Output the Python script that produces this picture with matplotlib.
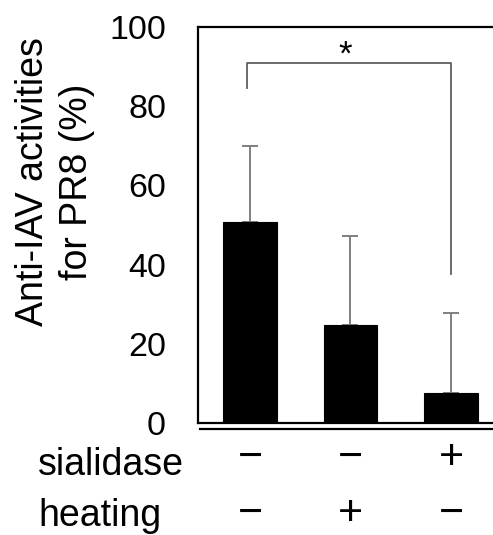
import matplotlib
matplotlib.use("Agg")
import matplotlib.pyplot as plt
import matplotlib.transforms as mtransforms

plt.rcParams['font.family'] = ['Liberation Sans', 'DejaVu Sans']

# Data
groups = [0, 1, 2]
means = [50.8, 24.7, 7.6]
err_upper = [19.2, 22.5, 20.2]
sialidase = ['−', '−', '+']
heating = ['−', '+', '−']
yticks = [0, 20, 40, 60, 80, 100]
ylabel = 'Anti-IAV activities\nfor PR8 (%)'
sig_text = '*'

W, H = 493, 535
fig = plt.figure(figsize=(W / 100, H / 100), dpi=100)
ax = fig.add_axes([198 / W, (H - 423) / H, 305 / W, 396 / H])

ax.bar(groups, means, width=0.53, color='black', edgecolor='black', linewidth=0.8, zorder=2)
ax.errorbar(groups, means, yerr=[[0, 0, 0], err_upper], fmt='none', ecolor='#7f7f7f',
            elinewidth=1.4, capsize=6, capthick=1.4, zorder=1)

ax.set_xlim(-0.517, 2.518)
ax.set_ylim(0, 100)
ax.set_yticks(yticks)
ax.set_yticklabels([str(t) for t in yticks], fontsize=24.5)
ax.tick_params(axis='y', length=0, pad=23)
ax.set_xticks([])
for s in ['left', 'top', 'bottom']:
    ax.spines[s].set_linewidth(1.6)
ax.spines['right'].set_visible(False)

# second base line
ax.plot([-0.5, 2.6], [-1.6, -1.6], color='black', lw=1.6, clip_on=False)

# significance bracket
ax.plot([-0.03, -0.03, 2.0, 2.0], [84.6, 91, 91, 37.6], color='#5f5f5f', lw=1.3, clip_on=False)
ax.text(0.95, 90.6, sig_text, ha='center', va='baseline', fontsize=25)

# y label
fig.text(55 / W, 1 - 182 / H, ylabel, rotation=90, ha='center', va='center',
         multialignment='center', fontsize=27, linespacing=1.28)

# row labels
fig.text(38 / W, 1 - 475 / H, 'sialidase', ha='left', va='baseline', fontsize=27)
fig.text(38 / W, 1 - 526 / H, 'heating', ha='left', va='baseline', fontsize=27)

trans = mtransforms.blended_transform_factory(ax.transData, fig.transFigure)
for g, s, h in zip(groups, sialidase, heating):
    ax.text(g, 1 - 469 / H, s, transform=trans, ha='center', va='baseline', fontsize=31)
    ax.text(g, 1 - 525 / H, h, transform=trans, ha='center', va='baseline', fontsize=31)

fig.savefig('out.png', dpi=100)
